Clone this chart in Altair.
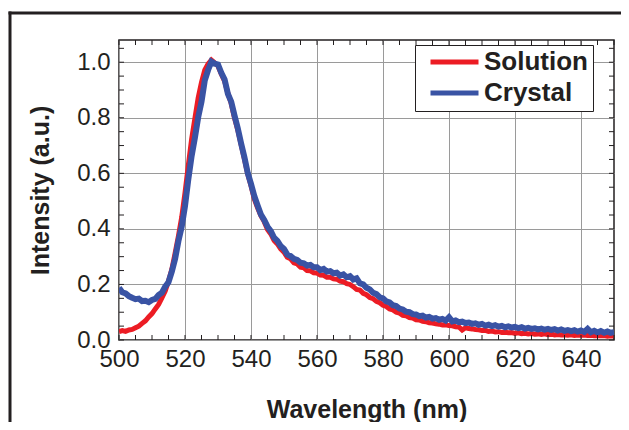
import altair as alt
import pandas as pd

# ---------------- data ----------------
wavelength = list(range(500, 651))  # nm, 1 nm steps

crystal = [
    0.188, 0.172, 0.168, 0.158, 0.152, 0.147, 0.149, 0.140, 0.141, 0.136,
    0.144, 0.148, 0.162, 0.170, 0.192, 0.208, 0.246, 0.292, 0.356, 0.408,
    0.482, 0.578, 0.662, 0.728, 0.802, 0.858, 0.935, 0.972, 1.002, 0.995,
    0.992, 0.962, 0.938, 0.886, 0.858, 0.808, 0.762, 0.708, 0.658, 0.602,
    0.562, 0.518, 0.484, 0.452, 0.432, 0.408, 0.392, 0.368, 0.357, 0.338,
    0.328, 0.308, 0.302, 0.292, 0.288, 0.278, 0.276, 0.268, 0.270, 0.262,
    0.262, 0.252, 0.256, 0.246, 0.248, 0.240, 0.242, 0.232, 0.236, 0.226,
    0.230, 0.218, 0.222, 0.204, 0.200, 0.188, 0.182, 0.170, 0.165, 0.154,
    0.150, 0.139, 0.135, 0.125, 0.122, 0.113, 0.110, 0.102, 0.100, 0.093,
    0.092, 0.086, 0.088, 0.081, 0.083, 0.077, 0.079, 0.073, 0.076, 0.070,
    0.082, 0.067, 0.070, 0.064, 0.066, 0.061, 0.063, 0.058, 0.060, 0.055,
    0.058, 0.052, 0.055, 0.050, 0.053, 0.048, 0.051, 0.046, 0.049, 0.045,
    0.047, 0.043, 0.046, 0.041, 0.044, 0.040, 0.042, 0.038, 0.041, 0.037,
    0.040, 0.036, 0.039, 0.034, 0.038, 0.033, 0.036, 0.032, 0.035, 0.030,
    0.034, 0.029, 0.040, 0.028, 0.033, 0.027, 0.032, 0.026, 0.031, 0.026,
    0.028,
]

solution = [
    0.030, 0.034, 0.031, 0.036, 0.038, 0.044, 0.050, 0.060, 0.069, 0.083,
    0.095, 0.112, 0.128, 0.152, 0.176, 0.212, 0.254, 0.312, 0.374, 0.442,
    0.530, 0.628, 0.722, 0.798, 0.872, 0.928, 0.972, 0.994, 1.008, 0.998,
    0.986, 0.958, 0.932, 0.888, 0.852, 0.800, 0.756, 0.704, 0.652, 0.598,
    0.556, 0.508, 0.476, 0.448, 0.426, 0.398, 0.382, 0.358, 0.346, 0.328,
    0.316, 0.298, 0.292, 0.278, 0.274, 0.262, 0.260, 0.250, 0.249, 0.242,
    0.241, 0.234, 0.233, 0.226, 0.226, 0.220, 0.219, 0.212, 0.210, 0.203,
    0.200, 0.192, 0.182, 0.180, 0.168, 0.163, 0.153, 0.149, 0.139, 0.134,
    0.125, 0.121, 0.112, 0.108, 0.100, 0.097, 0.089, 0.087, 0.081, 0.079,
    0.073, 0.072, 0.067, 0.066, 0.062, 0.061, 0.058, 0.057, 0.054, 0.055,
    0.052, 0.051, 0.048, 0.047, 0.036, 0.044, 0.041, 0.040, 0.038, 0.037,
    0.034, 0.035, 0.031, 0.032, 0.029, 0.030, 0.027, 0.028, 0.026, 0.027,
    0.024, 0.026, 0.023, 0.024, 0.022, 0.023, 0.021, 0.022, 0.020, 0.022,
    0.019, 0.021, 0.018, 0.020, 0.018, 0.019, 0.017, 0.019, 0.016, 0.018,
    0.017, 0.018, 0.016, 0.017, 0.015, 0.016, 0.015, 0.016, 0.014, 0.015,
    0.014,
]

series_names = ["Solution", "Crystal"]
series_colors = ["#ec1c24", "#3953a4"]

x_major_ticks = [500, 520, 540, 560, 580, 600, 620, 640]
y_major_ticks = [0.0, 0.2, 0.4, 0.6, 0.8, 1.0]
x_minor_ticks = list(range(500, 651, 5))
y_minor_ticks = [0.0, 0.05, 0.1, 0.15, 0.2, 0.25, 0.3, 0.35, 0.4, 0.45, 0.5,
                 0.55, 0.6, 0.65, 0.7, 0.75, 0.8, 0.85, 0.9, 0.95, 1.0, 1.05]

# ---------------- layout constants ----------------
W, H = 495, 300
FONT = "Liberation Sans"
INK = "#231f20"

df_sol = pd.DataFrame({"wl": wavelength, "I": solution, "series": series_names[0]})
df_cry = pd.DataFrame({"wl": wavelength, "I": crystal, "series": series_names[1]})
df_xt = pd.DataFrame({"t": x_minor_ticks})
df_yt = pd.DataFrame({"t": y_minor_ticks})
df_one = pd.DataFrame({"k": [0]})

xscale = alt.Scale(domain=[500, 650], nice=False, zero=False)
yscale = alt.Scale(domain=[0, 1.08], nice=False, zero=False)

xaxis = alt.Axis(
    values=x_major_ticks, format="d", grid=True, gridColor="#9a9a9a", gridWidth=1,
    ticks=False, domain=False, labelFont=FONT, labelFontSize=24, labelColor=INK,
    labelPadding=7, labelFlush=False, title="Wavelength (nm)", titleFont=FONT,
    titleFontSize=25, titleFontWeight="bold", titleColor=INK,
    titleX=W / 2, titleY=69, titleBaseline="middle", titleAlign="center",
)
yaxis = alt.Axis(
    values=y_major_ticks, format=".1f", grid=True, gridColor="#9a9a9a", gridWidth=1,
    ticks=False, domain=False, labelFont=FONT, labelFontSize=24, labelColor=INK,
    labelPadding=9, labelFlush=False, title="Intensity (a.u.)", titleFont=FONT,
    titleFontSize=25, titleFontWeight="bold", titleColor=INK,
    titleX=-79, titleY=H / 2, titleAngle=270, titleBaseline="middle",
    titleAlign="center",
)


def X(field):
    return alt.X(field, type="quantitative", scale=xscale, axis=xaxis)


def Y(field):
    return alt.Y(field, type="quantitative", scale=yscale, axis=yaxis)


legend = alt.Legend(
    orient="none", legendX=296, legendY=5, title=None,
    symbolType="stroke", symbolSize=2304, symbolStrokeWidth=5, symbolOffset=8,
    clipHeight=24, padding=5, rowPadding=5, labelOffset=3,
    labelFont=FONT, labelFontSize=26, labelFontWeight="bold", labelColor=INK,
    fillColor="white", strokeColor=INK,
)
color_scale = alt.Scale(domain=series_names, range=series_colors)
color_enc = alt.Color("series:N", scale=color_scale, legend=legend)

red = alt.Chart(df_sol).mark_line(strokeWidth=5, clip=True).encode(
    x=X("wl"), y=Y("I"), color=color_enc)
blue = alt.Chart(df_cry).mark_line(strokeWidth=6, clip=True).encode(
    x=X("wl"), y=Y("I"), color=color_enc)

tick_style = dict(color=INK, strokeWidth=1)
ticks_bottom = alt.Chart(df_xt).mark_rule(**tick_style).encode(
    x=X("t"), y=alt.value(H), y2=alt.value(H - 5))
ticks_top = alt.Chart(df_xt).mark_rule(**tick_style).encode(
    x=X("t"), y=alt.value(0), y2=alt.value(5))
ticks_left = alt.Chart(df_yt).mark_rule(**tick_style).encode(
    y=Y("t"), x=alt.value(0), x2=alt.value(5))
ticks_right = alt.Chart(df_yt).mark_rule(**tick_style).encode(
    y=Y("t"), x=alt.value(W), x2=alt.value(W - 5))

frame_style = dict(color=INK, strokeWidth=3, clip=False, strokeCap="square")
frame_left = alt.Chart(df_one).mark_rule(**frame_style).encode(
    x=alt.value(-109), y=alt.value(-27), y2=alt.value(420))
frame_top = alt.Chart(df_one).mark_rule(**frame_style).encode(
    x=alt.value(-109), x2=alt.value(540), y=alt.value(-27))

chart = alt.layer(
    red, blue, ticks_bottom, ticks_top, ticks_left, ticks_right, frame_left, frame_top
).properties(
    width=W, height=H,
    autosize=alt.AutoSizeParams(type="none"),
    padding={"left": 111, "top": 32, "right": 7, "bottom": 82},
    background="white",
).configure_view(
    stroke=INK, strokeWidth=1.5,
)

chart.save("out.html", embed_options={"renderer": "svg", "actions": False})
